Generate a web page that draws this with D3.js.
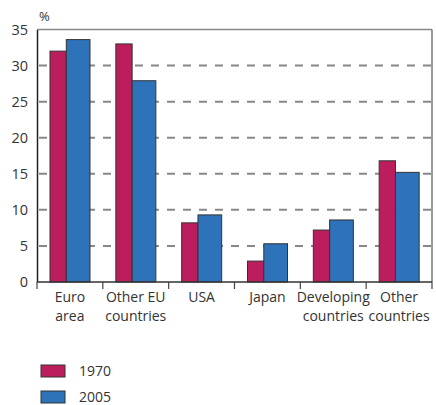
<!DOCTYPE html>
<html>
<head>
<meta charset="utf-8">
<script src="https://cdn.jsdelivr.net/npm/d3@7"></script>
<style>
  html, body { margin: 0; padding: 0; background: #fff; }
  svg { display: block; }
  text { font-family: "Open Sans", "DejaVu Sans", sans-serif; fill: #333; }
</style>
</head>
<body>
<svg id="chart" width="436" height="405"></svg>
<script>
// Share of trade by partner region, 1970 vs 2005 (%)
const categories = [["Euro", "area"], ["Other EU", "countries"], ["USA"], ["Japan"], ["Developing", "countries"], ["Other", "countries"]];
const series1970 = [32.0, 33.0, 8.2, 2.9, 7.2, 16.8];
const series2005 = [33.6, 27.9, 9.3, 5.3, 8.6, 15.2];
const yTicks = [0, 5, 10, 15, 20, 25, 30, 35];
const seriesNames = ["1970", "2005"];
const colors = ["#BC1E5D", "#2E72BA"];

const svg = d3.select("#chart");
const plotLeft = 37, plotRight = 432, plotTop = 29.5, plotBottom = 282;

const x = d3.scaleBand().domain(d3.range(categories.length)).range([plotLeft, plotRight]).padding(0);
const y = d3.scaleLinear().domain([0, 35]).range([plotBottom, plotTop]);

// dashed horizontal grid
svg.append("g").selectAll("line")
  .data(yTicks.filter(t => t > 0 && t < 35))
  .join("line")
  .attr("x1", plotLeft).attr("x2", plotRight)
  .attr("y1", d => y(d)).attr("y2", d => y(d))
  .attr("stroke", "#888").attr("stroke-width", 2)
  .attr("stroke-dasharray", "8,8").attr("stroke-dashoffset", -2);

// top and right frame
svg.append("line").attr("x1", plotLeft).attr("x2", plotRight).attr("y1", y(35)).attr("y2", y(35))
  .attr("stroke", "#888").attr("stroke-width", 1.5);
svg.append("line").attr("x1", plotRight).attr("x2", plotRight).attr("y1", y(35)).attr("y2", plotBottom)
  .attr("stroke", "#777").attr("stroke-width", 1.5);

// bars
const redW = 16.3, blueW = 23.7, padL = 13;
const bars = svg.append("g");
bars.selectAll("rect.s1970").data(series1970).join("rect")
  .attr("class", "s1970")
  .attr("x", (d, i) => x(i) + padL)
  .attr("width", redW)
  .attr("y", d => y(d))
  .attr("height", d => plotBottom - y(d))
  .attr("fill", colors[0]).attr("stroke", "#333").attr("stroke-width", 1);
bars.selectAll("rect.s2005").data(series2005).join("rect")
  .attr("class", "s2005")
  .attr("x", (d, i) => x(i) + padL + redW)
  .attr("width", blueW)
  .attr("y", d => y(d))
  .attr("height", d => plotBottom - y(d))
  .attr("fill", colors[1]).attr("stroke", "#333").attr("stroke-width", 1);

// y axis
const yAxis = svg.append("g").attr("transform", `translate(${plotLeft},0)`)
  .call(d3.axisLeft(y).tickValues(yTicks).tickSize(0).tickPadding(9));
yAxis.select(".domain").attr("stroke", "#222").attr("stroke-width", 1.5);
yAxis.selectAll("text").attr("font-size", 14.5).attr("fill", "#333")
  .style("font-family", '"Open Sans", sans-serif');

svg.append("text").attr("x", 39).attr("y", 21).attr("font-size", 13).text("%");

// x axis baseline and separators
svg.append("line").attr("x1", plotLeft).attr("x2", plotRight).attr("y1", plotBottom).attr("y2", plotBottom)
  .attr("stroke", "#333").attr("stroke-width", 1.5);
svg.append("g").selectAll("line")
  .data(d3.range(categories.length + 1))
  .join("line")
  .attr("x1", i => plotLeft + i * x.bandwidth()).attr("x2", i => plotLeft + i * x.bandwidth())
  .attr("y1", plotBottom).attr("y2", plotBottom + 7)
  .attr("stroke", "#444").attr("stroke-width", 1.2);

// category labels
const lab = svg.append("g").selectAll("text").data(categories).join("text")
  .attr("text-anchor", "middle").attr("font-size", 14);
lab.each(function (lines, i) {
  const t = d3.select(this);
  lines.forEach((s, k) => {
    t.append("tspan").attr("x", x(i) + x.bandwidth() / 2).attr("y", 302 + k * 19).text(s);
  });
});

// legend
const leg = svg.append("g").selectAll("g").data(seriesNames).join("g")
  .attr("transform", (d, i) => `translate(41,${365 + i * 26})`);
leg.append("rect").attr("width", 24).attr("height", 12)
  .attr("fill", (d, i) => colors[i]).attr("stroke", "#333").attr("stroke-width", 1);
leg.append("text").attr("x", 38).attr("y", 11).attr("font-size", 14).text(d => d);
</script>
</body>
</html>
